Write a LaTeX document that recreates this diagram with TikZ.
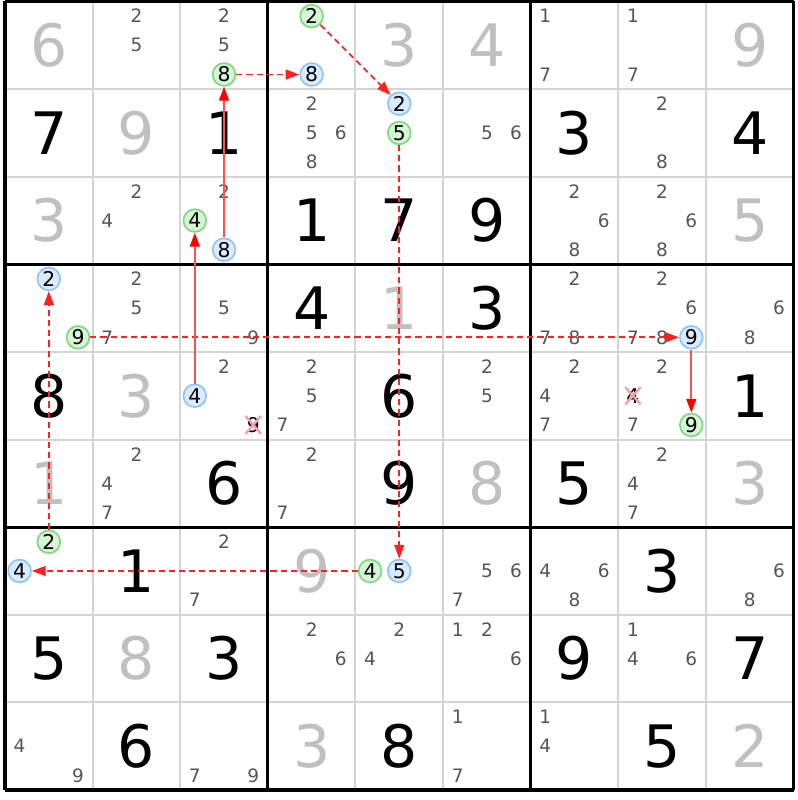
\documentclass[tikz,border=0pt]{standalone}
\usepackage{fontspec}
\setmainfont{DejaVu Sans}
\usetikzlibrary{arrows.meta}
\usetikzlibrary{shapes.misc}
\definecolor{gridgray}{HTML}{D4D4D4}
\definecolor{solvedgray}{HTML}{C0C0C0}
\definecolor{candgray}{HTML}{555555}
\definecolor{ongreen}{HTML}{D6F5D6}
\definecolor{ongreenline}{HTML}{80D880}
\definecolor{offblue}{HTML}{DAEBFF}
\definecolor{offblueline}{HTML}{90C4F4}
\definecolor{xpink}{HTML}{F4A0A8}
\definecolor{linkred}{HTML}{FF2020}
\definecolor{strongred}{HTML}{FF5050}
\tikzstyle{every node}=[font=\fontsize{6}{6}\selectfont]
\tikzstyle{given}=[font=\fontsize{19}{19}\selectfont, text=black]
\tikzstyle{solved}=[font=\fontsize{19}{19}\selectfont, text=solvedgray]
\tikzstyle{cand}=[text=candgray, inner sep=0pt]
\tikzstyle{lnkon}=[circle, draw=ongreenline, fill=ongreen, line width=0.55pt,
  minimum size=7.4pt, inner sep=0pt, font=\fontsize{6.6}{6.6}\selectfont]
\tikzstyle{lnkoff}=[circle, draw=offblueline, fill=offblue, line width=0.55pt,
  minimum size=7.4pt, inner sep=0pt, font=\fontsize{6.6}{6.6}\selectfont]
\tikzstyle{elim}=[cross out, draw=xpink, line width=0.8pt, minimum width=4.2pt,
  minimum height=4.6pt, inner sep=0pt, font=\fontsize{6.6}{6.6}\selectfont]
\tikzset{
  redtip/.tip={Triangle[length=4.5pt,width=3.2pt]},
  weakarr/.style={color=linkred, line width=0.6pt,
    dash pattern=on 2pt off 1.3pt, -redtip},
  strongarr/.style={color=strongred, line width=0.6pt,
    -{Triangle[length=4.5pt,width=3.2pt,color=red]}}
}
% candidate #5 of cell (#3,#4)
\newcommand{\candnode}[5][cand]{%
  \node[#1] (#2) at ({#4-1+(mod(#5-1,3)+0.5)/3},{#3-1+(int((#5-1)/3)+0.5)/3}) {#5};}

\begin{document}
\begin{tikzpicture}[x=1cm, y=-1cm]
  \useasboundingbox (-0.057,-0.017) rectangle (9.045,9.114);
  % grid
  \foreach \i in {1,2,4,5,7,8}
   {
    \draw[gridgray, line width=0.65pt] (\i,0) -- (\i,9);
    \draw[gridgray, line width=0.65pt] (0,\i) -- (9,\i);
   }
  \foreach \i in {0,3,6,9}
   {
    \draw[black, line width=1pt] (\i,0) -- (\i,9);
    \draw[black, line width=1pt] (0,\i) -- (9,\i);
   }
  % givens
  \foreach \r/\c/\d in {2/1/7,2/3/1,2/7/3,2/9/4,3/4/1,3/5/7,3/6/9,4/4/4,4/6/3,
      5/1/8,5/5/6,5/9/1,6/3/6,6/5/9,6/7/5,7/2/1,7/8/3,8/1/5,8/3/3,8/7/9,
      8/9/7,9/2/6,9/5/8,9/8/5}
    \node[given] (g\r\c) at (\c-0.5,\r-0.5) {\d};
  % solved
  \foreach \r/\c/\d in {1/1/6,1/5/3,1/6/4,1/9/9,2/2/9,3/1/3,3/9/5,4/5/1,5/2/3,
      6/1/1,6/6/8,6/9/3,7/4/9,8/2/8,9/4/3,9/9/2}
    \node[solved] (s\r\c) at (\c-0.5,\r-0.5) {\d};
  % pencil marks
  \foreach \r/\c/\ds in {1/2/{2,5},1/3/{2,5},1/7/{1,7},1/8/{1,7},
      2/4/{2,5,6,8},2/6/{5,6},2/8/{2,8},
      3/2/{2,4},3/3/{2},3/7/{2,6,8},3/8/{2,6,8},
      4/2/{2,5,7},4/3/{5,9},4/7/{2,7,8},4/8/{2,6,7,8},4/9/{6,8},
      5/3/{2},5/4/{2,5,7},5/6/{2,5},5/7/{2,4,7},5/8/{2,7},
      6/2/{2,4,7},6/4/{2,7},6/8/{2,4,7},
      7/3/{2,7},7/6/{5,6,7},7/7/{4,6,8},7/9/{6,8},
      8/4/{2,6},8/5/{2,4},8/6/{1,2,6},8/8/{1,4,6},
      9/1/{4,9},9/3/{7,9},9/6/{1,7},9/7/{1,4}}
   {
    \foreach \d in \ds
     {
      \candnode{p\r\c\d}{\r}{\c}{\d}
     }
   }
  % chain
  \candnode[lnkoff]{b338}{3}{3}{8}
  \candnode[lnkon]{a138}{1}{3}{8}
  \candnode[lnkoff]{b148}{1}{4}{8}
  \candnode[lnkon]{a142}{1}{4}{2}
  \candnode[lnkoff]{b252}{2}{5}{2}
  \candnode[lnkon]{a255}{2}{5}{5}
  \candnode[lnkoff]{b755}{7}{5}{5}
  \candnode[lnkon]{a754}{7}{5}{4}
  \candnode[lnkoff]{b714}{7}{1}{4}
  \candnode[lnkon]{a712}{7}{1}{2}
  \candnode[lnkoff]{b412}{4}{1}{2}
  \candnode[lnkon]{a419}{4}{1}{9}
  \candnode[lnkoff]{b489}{4}{8}{9}
  \candnode[lnkon]{a589}{5}{8}{9}
  \candnode[lnkoff]{b534}{5}{3}{4}
  \candnode[lnkon]{a334}{3}{3}{4}
  % eliminations
  \candnode[elim]{x539}{5}{3}{9}
  \candnode[elim]{x584}{5}{8}{4}
  % links
  \draw[strongarr] (b338) -- (a138);
  \draw[weakarr] (a138) -- (b148);
  \draw[weakarr] (a142) -- (b252);
  \draw[weakarr] (a255) -- (b755);
  \draw[weakarr] (a754) -- (b714);
  \draw[weakarr] (a712) -- (b412);
  \draw[weakarr] (a419) -- (b489);
  \draw[strongarr] (b489) -- (a589);
  \draw[strongarr] (b534) -- (a334);
\end{tikzpicture}
\end{document}
